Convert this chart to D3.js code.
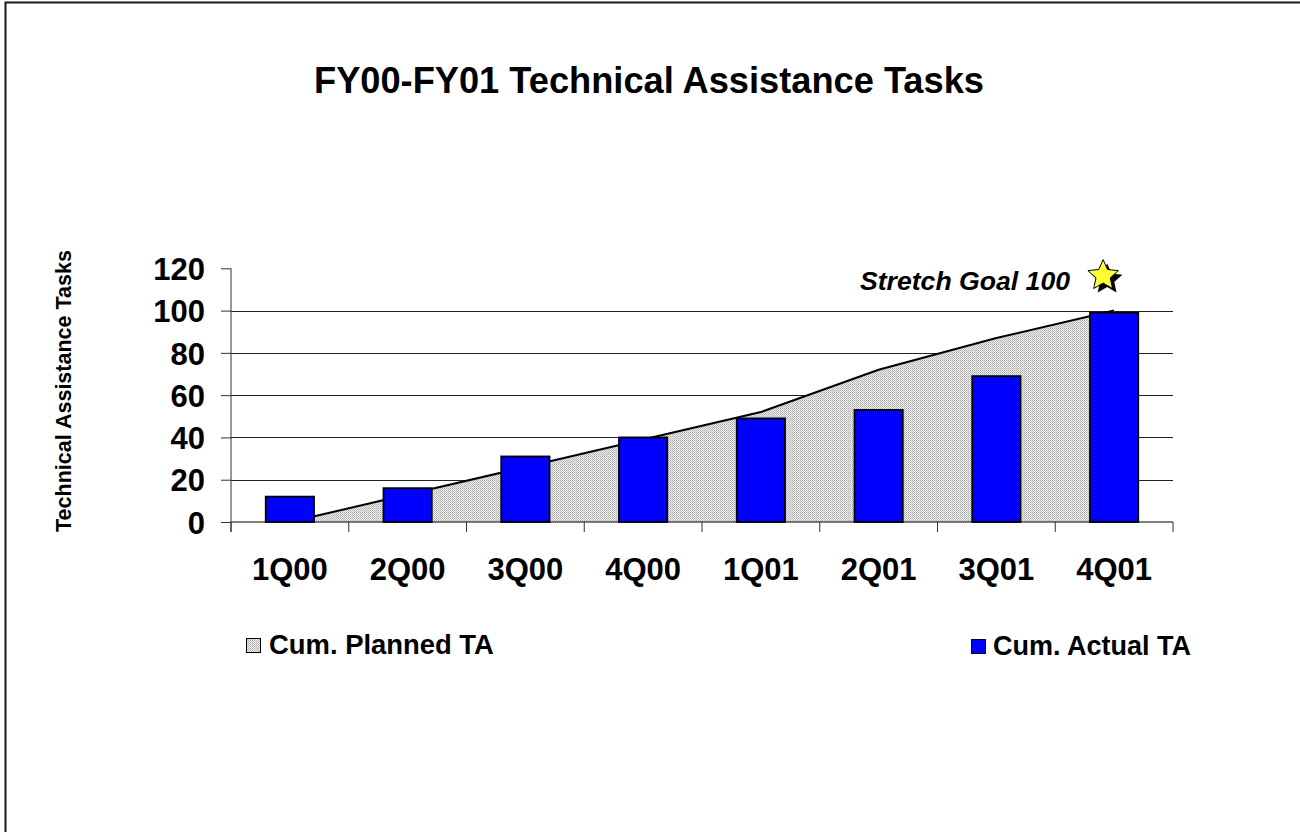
<!DOCTYPE html>
<html>
<head>
<meta charset="utf-8">
<script src="https://cdn.jsdelivr.net/npm/d3@7"></script>
<style>
  html, body { margin: 0; padding: 0; background: #fff; }
  svg { display: block; font-family: "Liberation Sans", Arial, sans-serif; }
</style>
</head>
<body>
<svg id="chart" width="1300" height="832"></svg>
<script>
const categories = ["1Q00", "2Q00", "3Q00", "4Q00", "1Q01", "2Q01", "3Q01", "4Q01"];
const plannedTA = [0, 13, 26, 39, 52, 72, 87, 100];
const actualTA = [12, 16, 31, 40, 49, 53, 69, 99];
const yTicks = [0, 20, 40, 60, 80, 100, 120];
const gridValues = [20, 40, 60, 80, 100];
const titleText = "FY00-FY01 Technical Assistance Tasks";
const yTitleText = "Technical Assistance Tasks";
const stretchText = "Stretch Goal 100";
const legendPlanned = "Cum. Planned TA";
const legendActual = "Cum. Actual TA";

(function () {
const svg = d3.select("#chart");

function fit(sel, target) {
  const fs = parseFloat(sel.attr("font-size"));
  const w = sel.node().getComputedTextLength();
  if (w > 0) sel.attr("font-size", (fs * target / w).toFixed(2));
  return sel;
}

const defs = svg.append("defs");
const pat = defs.append("pattern").attr("id", "dots").attr("width", 2).attr("height", 2)
  .attr("patternUnits", "userSpaceOnUse");
pat.append("rect").attr("width", 2).attr("height", 2).attr("fill", "#eeeeee");
pat.append("rect").attr("width", 1).attr("height", 1).attr("fill", "#ababab");
pat.append("rect").attr("x", 1).attr("y", 1).attr("width", 1).attr("height", 1).attr("fill", "#c2c2c2");

svg.append("rect").attr("x", 5.5).attr("y", 2.5).attr("width", 1400).attr("height", 900)
  .attr("fill", "none").attr("stroke", "#1a1a1a").attr("stroke-width", 2);

const pLeft = 231, pRight = 1173, pTop = 268.3, pBottom = 522;
const x = d3.scaleBand().domain(categories).range([pLeft, pRight]).paddingInner(0.59).paddingOuter(0.295);
const y = d3.scaleLinear().domain([0, 120]).range([pBottom, pTop]);
const cx = c => x(c) + x.bandwidth() / 2;

fit(svg.append("text").attr("x", 649).attr("y", 93).attr("text-anchor", "middle")
  .attr("font-size", 26).attr("font-weight", "bold").attr("fill", "#000").text(titleText), 670);

svg.append("g").selectAll("line").data(gridValues).join("line")
  .attr("x1", pLeft).attr("x2", pRight)
  .attr("y1", d => Math.round(y(d)) + 0.5).attr("y2", d => Math.round(y(d)) + 0.5)
  .attr("stroke", "#222").attr("stroke-width", 1);

const area = d3.area().x((d, i) => cx(categories[i])).y0(y(0)).y1(d => y(d));
const line = d3.line().x((d, i) => cx(categories[i])).y(d => y(d));
svg.append("path").datum(plannedTA).attr("d", area).attr("fill", "url(#dots)");
svg.append("path").datum(plannedTA).attr("d", line).attr("fill", "none")
  .attr("stroke", "#000").attr("stroke-width", 2);

svg.append("g").selectAll("rect").data(actualTA).join("rect")
  .attr("x", (d, i) => x(categories[i]))
  .attr("y", d => y(d))
  .attr("width", x.bandwidth())
  .attr("height", d => y(0) - y(d))
  .attr("fill", "#0000ff").attr("stroke", "#000").attr("stroke-width", 1.8);

const yAxis = d3.axisLeft(y).tickValues(yTicks).tickSize(10).tickPadding(16).tickFormat(d3.format("d"));
const gy = svg.append("g").attr("transform", `translate(${pLeft},0)`).call(yAxis);
gy.select(".domain").attr("d", `M0,${pTop}V${pBottom + 10}`).attr("stroke", "#333");
gy.selectAll(".tick line").attr("stroke", "#333");
gy.selectAll(".tick text").attr("font-size", 31).attr("font-weight", "bold")
  .attr("font-family", "'Liberation Sans', Arial, sans-serif").attr("fill", "#000")
  .attr("dy", "0.36em");

const gx = svg.append("g").attr("transform", `translate(0,${pBottom})`);
gx.append("line").attr("x1", pLeft).attr("x2", pRight).attr("y1", 0).attr("y2", 0).attr("stroke", "#000").attr("stroke-width", 1.2);
const bounds = categories.map(c => x(c) - x.step() * x.paddingInner() / 2).concat([pRight]);
gx.selectAll("line.tk").data(bounds).join("line").attr("class", "tk")
  .attr("x1", d => d).attr("x2", d => d).attr("y1", 0).attr("y2", 10).attr("stroke", "#333");
gx.selectAll("text").data(categories).join("text")
  .attr("x", d => cx(d)).attr("y", 58).attr("text-anchor", "middle")
  .attr("font-size", 31).attr("font-weight", "bold").attr("fill", "#000").text(d => d);

fit(svg.append("text").attr("transform", "translate(71,391) rotate(-90)").attr("text-anchor", "middle")
  .attr("font-size", 16).attr("font-weight", "bold").attr("fill", "#000").text(yTitleText), 282);

fit(svg.append("text").attr("x", 860).attr("y", 290).attr("font-size", 24)
  .attr("font-weight", "bold").attr("font-style", "italic").attr("fill", "#000").text(stretchText), 210);

function starPath(cxp, cyp, ro, ri) {
  const pts = [];
  for (let i = 0; i < 10; i++) {
    const r = i % 2 === 0 ? ro : ri;
    const a = -Math.PI / 2 + i * Math.PI / 5;
    pts.push([cxp + r * Math.cos(a), cyp + r * Math.sin(a)]);
  }
  return d3.line()(pts) + "Z";
}
const starX = cx(categories[7]) - 11, starY = y(100) - 35;
svg.append("path").attr("d", starPath(starX + 4, starY + 4, 16, 7.5)).attr("fill", "#000");
svg.append("path").attr("d", starPath(starX, starY, 16, 7.5)).attr("fill", "#ffff33")
  .attr("stroke", "#000").attr("stroke-width", 1);

svg.append("rect").attr("x", 246.5).attr("y", 638.5).attr("width", 14).attr("height", 14)
  .attr("fill", "url(#dots)").attr("stroke", "#000").attr("stroke-width", 1);
fit(svg.append("text").attr("x", 269).attr("y", 654).attr("font-size", 25)
  .attr("font-weight", "bold").attr("fill", "#000").text(legendPlanned), 225);
svg.append("rect").attr("x", 971.5).attr("y", 639.5).attr("width", 14).attr("height", 14)
  .attr("fill", "#0000ff").attr("stroke", "#000").attr("stroke-width", 1);
fit(svg.append("text").attr("x", 993).attr("y", 655).attr("font-size", 25)
  .attr("font-weight", "bold").attr("fill", "#000").text(legendActual), 198);
})();
</script>
</body>
</html>
